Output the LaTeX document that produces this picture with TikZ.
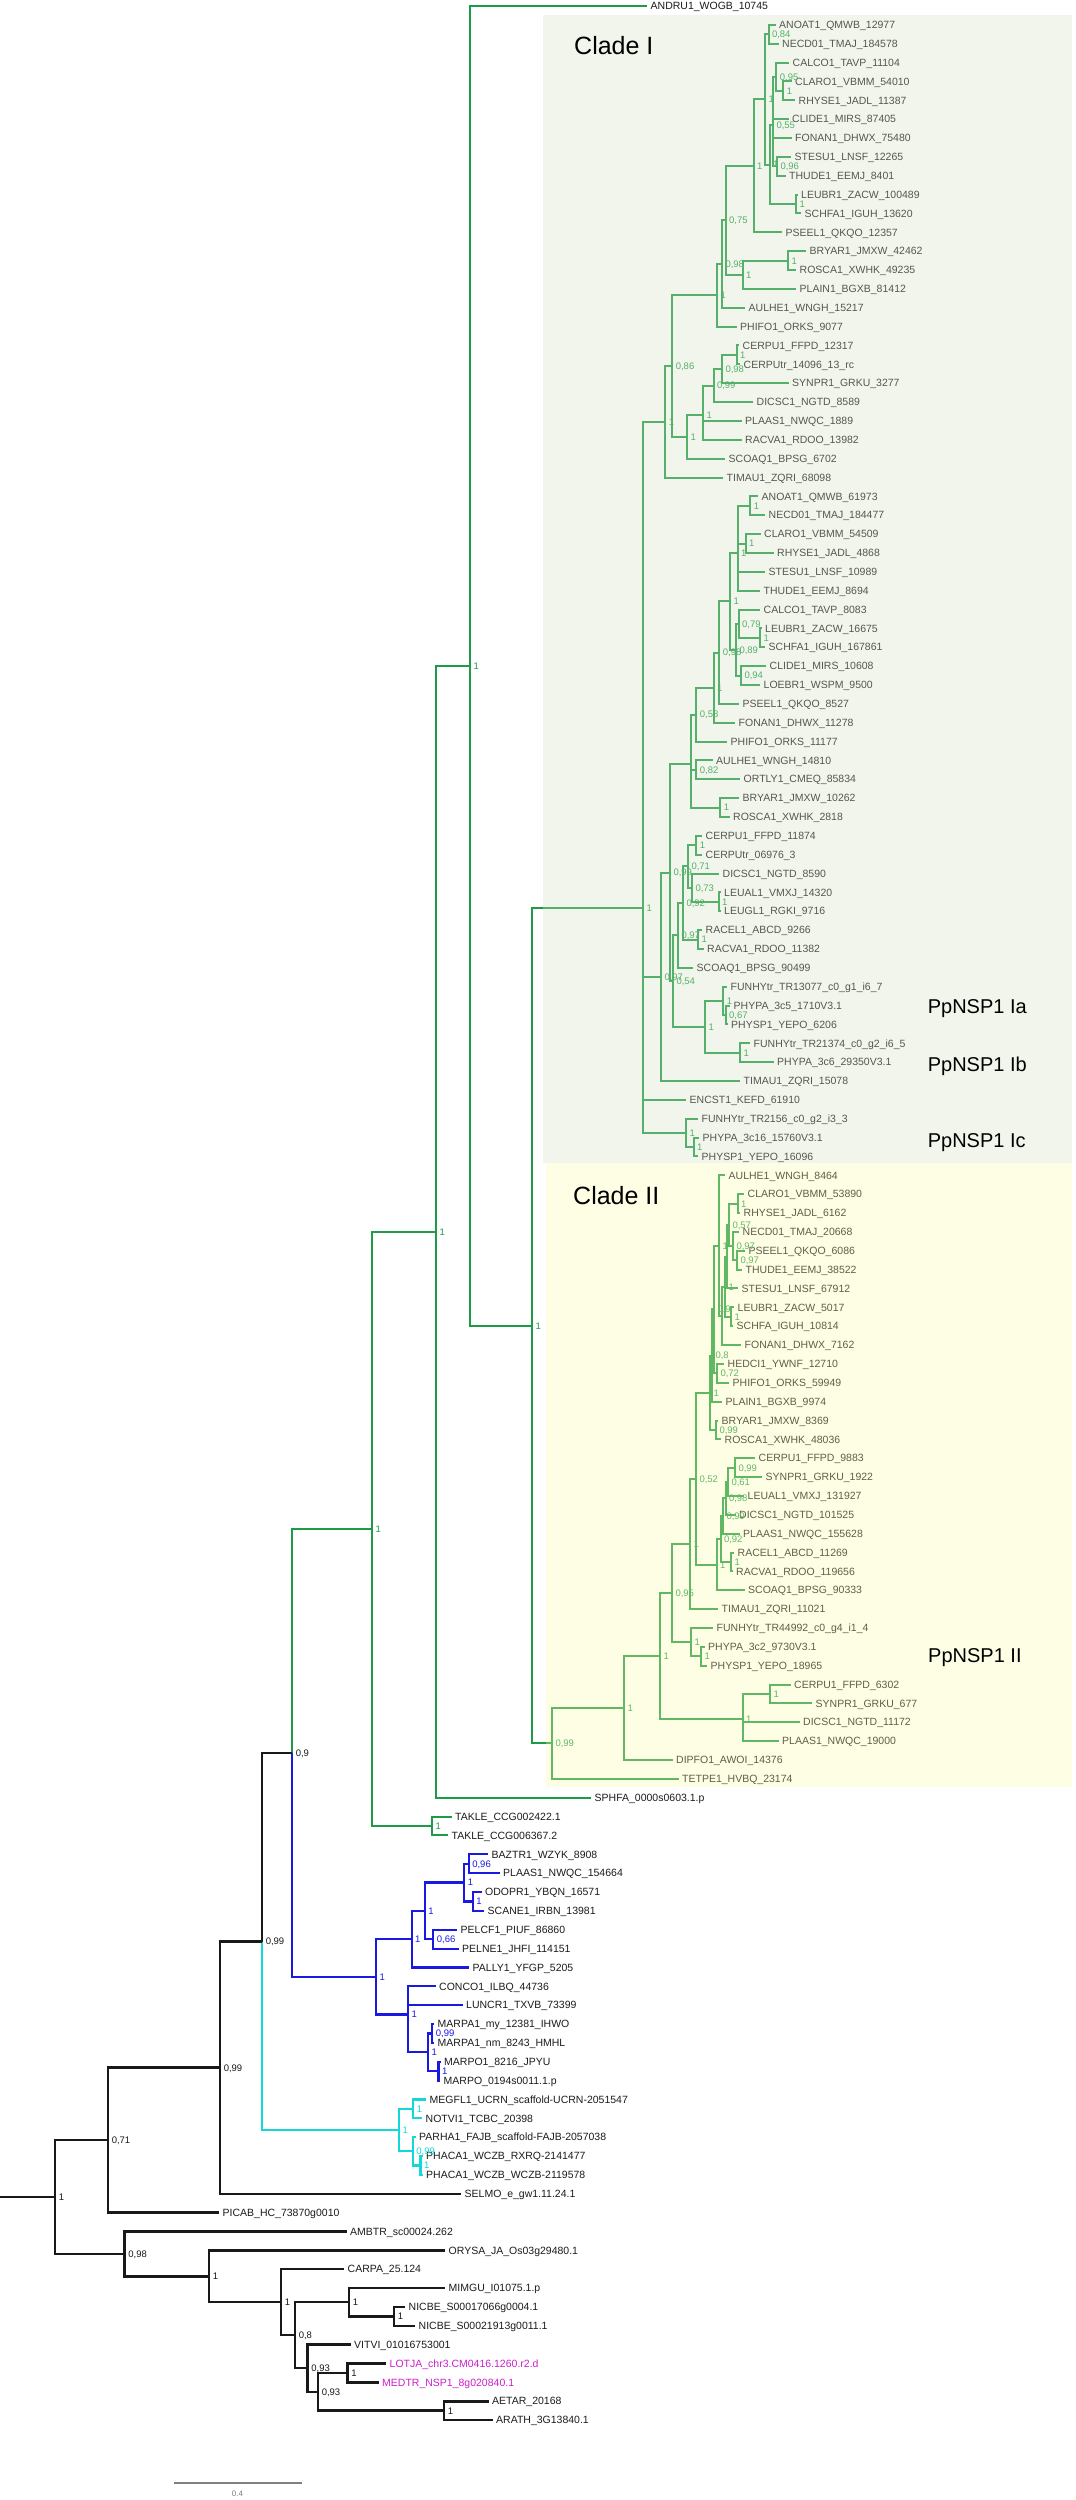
\documentclass[tikz,border=0pt]{standalone}
\usepackage{fontspec}
\setmainfont{Liberation Sans}
\usetikzlibrary{calc}
\definecolor{dgr}{RGB}{30,155,70}
\definecolor{blu}{RGB}{25,25,225}
\definecolor{cya}{RGB}{20,215,215}
\definecolor{blk}{RGB}{25,25,25}
\definecolor{txt}{RGB}{28,28,28}
\definecolor{mag}{RGB}{205,30,205}
\definecolor{boxa}{RGB}{212,225,192}
\definecolor{boxb}{RGB}{252,252,172}
\newcommand\lffont{\fontsize{10.5}{12}\selectfont}
\newcommand\bsfont{\fontsize{9.5}{11}\selectfont}
\tikzset{
 gr/.style={color=dgr,line width=2pt},
 bl/.style={color=blu,line width=2.2pt},
 cy/.style={color=cya,line width=2.2pt},
 bk/.style={color=blk,line width=2.5pt},
 lfs/.style={anchor=base west,inner sep=0pt,xshift=3.5pt,yshift=-3.7pt,font=\lffont},
 bs/.style={anchor=base west,inner sep=0pt,xshift=2.5pt,yshift=-3.4pt,font=\bsfont},
 cladelab/.style={anchor=base west,inner sep=0pt,font=\fontsize{25}{30}\selectfont,text=black},
 pplab/.style={anchor=base west,inner sep=0pt,font=\fontsize{20}{24}\selectfont,text=black},
}
\newcommand\lf[5][txt]{\coordinate (#2) at (#4,{6+18.86*#3});\node[lfs,text=#1] at (#2) {#5};}
\newcommand\cl[6][gr]{\path let \p1=($(#4)!0.5!(#5)$) in (#3pt,\y1) coordinate (#2);
 \draw[#1] (#2) |- (#4); \draw[#1] (#2) |- (#5); \node[bs,#1] at (#2) {#6};}
\newcommand\clt[7][gr]{\path let \p1=(barycentric cs:#4=1,#5=1,#6=1) in (#3pt,\y1) coordinate (#2);
 \foreach \c in {#4,#5,#6} {\draw[#1] (#2) |- (\c);} \node[bs,#1] at (#2) {#7};}
\newcommand\clq[8][gr]{\path let \p1=(barycentric cs:#4=1,#5=1,#6=1,#7=1) in (#3pt,\y1) coordinate (#2);
 \foreach \c in {#4,#5,#6,#7} {\draw[#1] (#2) |- (\c);} \node[bs,#1] at (#2) {#8};}
\begin{document}
\catcode`\_=12
\begin{tikzpicture}[x=1pt,y=-1pt]
\useasboundingbox (0,0) rectangle (1076,2500);
\fill[white] (0,0) rectangle (1076,2500);
% leaves
\lf{L0}{0}{647}{ANDRU1_WOGB_10745}
\lf{L1}{1}{775.5}{ANOAT1_QMWB_12977}
\lf{L2}{2}{778.5}{NECD01_TMAJ_184578}
\lf{L3}{3}{789}{CALCO1_TAVP_11104}
\lf{L4}{4}{791.5}{CLARO1_VBMM_54010}
\lf{L5}{5}{795}{RHYSE1_JADL_11387}
\lf{L6}{6}{788.5}{CLIDE1_MIRS_87405}
\lf{L7}{7}{791.5}{FONAN1_DHWX_75480}
\lf{L8}{8}{791}{STESU1_LNSF_12265}
\lf{L9}{9}{785.5}{THUDE1_EEMJ_8401}
\lf{L10}{10}{797.5}{LEUBR1_ZACW_100489}
\lf{L11}{11}{801}{SCHFA1_IGUH_13620}
\lf{L12}{12}{782}{PSEEL1_QKQO_12357}
\lf{L13}{13}{806}{BRYAR1_JMXW_42462}
\lf{L14}{14}{796}{ROSCA1_XWHK_49235}
\lf{L15}{15}{796}{PLAIN1_BGXB_81412}
\lf{L16}{16}{745}{AULHE1_WNGH_15217}
\lf{L17}{17}{736.5}{PHIFO1_ORKS_9077}
\lf{L18}{18}{739}{CERPU1_FFPD_12317}
\lf{L19}{19}{740}{CERPUtr_14096_13_rc}
\lf{L20}{20}{788.5}{SYNPR1_GRKU_3277}
\lf{L21}{21}{753}{DICSC1_NGTD_8589}
\lf{L22}{22}{741.5}{PLAAS1_NWQC_1889}
\lf{L23}{23}{741.5}{RACVA1_RDOO_13982}
\lf{L24}{24}{725}{SCOAQ1_BPSG_6702}
\lf{L25}{25}{723}{TIMAU1_ZQRI_68098}
\lf{L26}{26}{758}{ANOAT1_QMWB_61973}
\lf{L27}{27}{765}{NECD01_TMAJ_184477}
\lf{L28}{28}{760.5}{CLARO1_VBMM_54509}
\lf{L29}{29}{773.5}{RHYSE1_JADL_4868}
\lf{L30}{30}{765}{STESU1_LNSF_10989}
\lf{L31}{31}{760}{THUDE1_EEMJ_8694}
\lf{L32}{32}{760}{CALCO1_TAVP_8083}
\lf{L33}{33}{761.5}{LEUBR1_ZACW_16675}
\lf{L34}{34}{765}{SCHFA1_IGUH_167861}
\lf{L35}{35}{766}{CLIDE1_MIRS_10608}
\lf{L36}{36}{760}{LOEBR1_WSPM_9500}
\lf{L37}{37}{739}{PSEEL1_QKQO_8527}
\lf{L38}{38}{735}{FONAN1_DHWX_11278}
\lf{L39}{39}{727}{PHIFO1_ORKS_11177}
\lf{L40}{40}{712.5}{AULHE1_WNGH_14810}
\lf{L41}{41}{740}{ORTLY1_CMEQ_85834}
\lf{L42}{42}{739}{BRYAR1_JMXW_10262}
\lf{L43}{43}{729.5}{ROSCA1_XWHK_2818}
\lf{L44}{44}{702}{CERPU1_FFPD_11874}
\lf{L45}{45}{702}{CERPUtr_06976_3}
\lf{L46}{46}{719}{DICSC1_NGTD_8590}
\lf{L47}{47}{720.5}{LEUAL1_VMXJ_14320}
\lf{L48}{48}{720.5}{LEUGL1_RGKI_9716}
\lf{L49}{49}{702}{RACEL1_ABCD_9266}
\lf{L50}{50}{703.5}{RACVA1_RDOO_11382}
\lf{L51}{51}{693}{SCOAQ1_BPSG_90499}
\lf{L52}{52}{727}{FUNHYtr_TR13077_c0_g1_i6_7}
\lf{L53}{53}{730}{PHYPA_3c5_1710V3.1}
\lf{L54}{54}{727.5}{PHYSP1_YEPO_6206}
\lf{L55}{55}{750}{FUNHYtr_TR21374_c0_g2_i6_5}
\lf{L56}{56}{773.5}{PHYPA_3c6_29350V3.1}
\lf{L57}{57}{740}{TIMAU1_ZQRI_15078}
\lf{L58}{58}{686}{ENCST1_KEFD_61910}
\lf{L59}{59}{698}{FUNHYtr_TR2156_c0_g2_i3_3}
\lf{L60}{60}{699}{PHYPA_3c16_15760V3.1}
\lf{L61}{61}{698}{PHYSP1_YEPO_16096}
\lf{L62}{62}{725}{AULHE1_WNGH_8464}
\lf{L63}{63}{744}{CLARO1_VBMM_53890}
\lf{L64}{64}{740}{RHYSE1_JADL_6162}
\lf{L65}{65}{739}{NECD01_TMAJ_20668}
\lf{L66}{66}{745}{PSEEL1_QKQO_6086}
\lf{L67}{67}{742}{THUDE1_EEMJ_38522}
\lf{L68}{68}{738}{STESU1_LNSF_67912}
\lf{L69}{69}{734}{LEUBR1_ZACW_5017}
\lf{L70}{70}{733}{SCHFA_IGUH_10814}
\lf{L71}{71}{741}{FONAN1_DHWX_7162}
\lf{L72}{72}{724}{HEDCI1_YWNF_12710}
\lf{L73}{73}{729}{PHIFO1_ORKS_59949}
\lf{L74}{74}{722}{PLAIN1_BGXB_9974}
\lf{L75}{75}{718}{BRYAR1_JMXW_8369}
\lf{L76}{76}{721}{ROSCA1_XWHK_48036}
\lf{L77}{77}{755}{CERPU1_FFPD_9883}
\lf{L78}{78}{762}{SYNPR1_GRKU_1922}
\lf{L79}{79}{744}{LEUAL1_VMXJ_131927}
\lf{L80}{80}{735.5}{DICSC1_NGTD_101525}
\lf{L81}{81}{739.5}{PLAAS1_NWQC_155628}
\lf{L82}{82}{734}{RACEL1_ABCD_11269}
\lf{L83}{83}{732.5}{RACVA1_RDOO_119656}
\lf{L84}{84}{744.5}{SCOAQ1_BPSG_90333}
\lf{L85}{85}{718}{TIMAU1_ZQRI_11021}
\lf{L86}{86}{713}{FUNHYtr_TR44992_c0_g4_i1_4}
\lf{L87}{87}{704.5}{PHYPA_3c2_9730V3.1}
\lf{L88}{88}{707}{PHYSP1_YEPO_18965}
\lf{L89}{89}{790.5}{CERPU1_FFPD_6302}
\lf{L90}{90}{812}{SYNPR1_GRKU_677}
\lf{L91}{91}{799.5}{DICSC1_NGTD_11172}
\lf{L92}{92}{778.5}{PLAAS1_NWQC_19000}
\lf{L93}{93}{672.5}{DIPFO1_AWOI_14376}
\lf{L94}{94}{678.5}{TETPE1_HVBQ_23174}
\lf{L95}{95}{591}{SPHFA_0000s0603.1.p}
\lf{L96}{96}{451.5}{TAKLE_CCG002422.1}
\lf{L97}{97}{448}{TAKLE_CCG006367.2}
\lf{L98}{98}{488}{BAZTR1_WZYK_8908}
\lf{L99}{99}{499.5}{PLAAS1_NWQC_154664}
\lf{L100}{100}{481.5}{ODOPR1_YBQN_16571}
\lf{L101}{101}{484}{SCANE1_IRBN_13981}
\lf{L102}{102}{457}{PELCF1_PIUF_86860}
\lf{L103}{103}{458.5}{PELNE1_JHFI_114151}
\lf{L104}{104}{469}{PALLY1_YFGP_5205}
\lf{L105}{105}{435.5}{CONCO1_ILBQ_44736}
\lf{L106}{106}{462.5}{LUNCR1_TXVB_73399}
\lf{L107}{107}{434}{MARPA1_my_12381_IHWO}
\lf{L108}{108}{434}{MARPA1_nm_8243_HMHL}
\lf{L109}{109}{440.5}{MARPO1_8216_JPYU}
\lf{L110}{110}{440}{MARPO_0194s0011.1.p}
\lf{L111}{111}{426}{MEGFL1_UCRN_scaffold-UCRN-2051547}
\lf{L112}{112}{422}{NOTVI1_TCBC_20398}
\lf{L113}{113}{415.5}{PARHA1_FAJB_scaffold-FAJB-2057038}
\lf{L114}{114}{422.5}{PHACA1_WCZB_RXRQ-2141477}
\lf{L115}{115}{422.5}{PHACA1_WCZB_WCZB-2119578}
\lf{L116}{116}{461}{SELMO_e_gw1.11.24.1}
\lf{L117}{117}{219}{PICAB_HC_73870g0010}
\lf{L118}{118}{346.5}{AMBTR_sc00024.262}
\lf{L119}{119}{445}{ORYSA_JA_Os03g29480.1}
\lf{L120}{120}{344}{CARPA_25.124}
\lf{L121}{121}{445}{MIMGU_I01075.1.p}
\lf{L122}{122}{405}{NICBE_S00017066g0004.1}
\lf{L123}{123}{415}{NICBE_S00021913g0011.1}
\lf{L124}{124}{350.5}{VITVI_01016753001}
\lf[mag]{L125}{125}{386}{LOTJA_chr3.CM0416.1260.r2.d}
\lf[mag]{L126}{126}{378.5}{MEDTR_NSP1_8g020840.1}
\lf{L127}{127}{488.5}{AETAR_20168}
\lf{L128}{128}{492.5}{ARATH_3G13840.1}
% clade I, part 1
\cl{n1}{768.5}{L1}{L2}{0,84}
\cl{n2}{783.3}{L4}{L5}{1}
\cl{n3}{776.4}{L3}{n2}{0,95}
\cl{n4}{777}{L8}{L9}{0,96}
\clq{n5}{773}{n3}{L6}{L7}{n4}{0,55}
\cl{n6}{796}{L10}{L11}{1}
\cl{n8}{769.5}{n5}{n6}{1}
\cl{n7}{765}{n1}{n8}{1}
\cl{n9}{753.7}{n7}{L12}{1}
\cl{br1}{788}{L13}{L14}{1}
\cl{nbrp}{742.7}{br1}{L15}{1}
\cl{n10}{725.6}{n9}{nbrp}{0,75}
\cl{n13}{722}{n10}{L16}{0,98}
\cl{n12}{717}{n13}{L17}{1}
\cl{n19}{736.6}{L18}{L19}{1}
\cl{n18}{722}{n19}{L20}{0,98}
\cl{n17}{713.5}{n18}{L21}{0,99}
\clt{n16}{703}{n17}{L22}{L23}{1}
\cl{n15}{687}{n16}{L24}{1}
\cl{n14}{672.3}{n12}{n15}{0,86}
\cl{n20}{665.4}{n14}{L25}{1}
% clade I, part 2
\cl{m1}{750.3}{L26}{L27}{1}
\cl{m2}{745.5}{L28}{L29}{1}
\clq{a2}{737.6}{m1}{m2}{L30}{L31}{1}
\cl{m3}{760}{L33}{L34}{1}
\cl{m4}{738.6}{L32}{m3}{0,79}
\cl{m5}{741}{L35}{L36}{0,94}
\cl{m6}{736}{m4}{m5}{0,89}
\cl{a3}{730}{a2}{m6}{1}
\cl{a4}{719.4}{a3}{L37}{0,98}
\cl{a5}{713.5}{a4}{L38}{1}
\cl{a6}{696.4}{a5}{L39}{0,58}
\cl{m7}{696.4}{L40}{L41}{0,82}
\cl{m8}{720.4}{L42}{L43}{1}
\clt{a7}{691.2}{a6}{m7}{m8}{}
\cl{c1}{696.4}{L44}{L45}{1}
\cl{c2}{718.7}{L47}{L48}{1}
\cl{c3}{692}{L46}{c2}{0,73}
\cl{c4}{688}{c1}{c3}{0,71}
\cl{c5}{698}{L49}{L50}{1}
\cl{c6}{683}{c4}{c5}{0,92}
\cl{c7}{678}{c6}{L51}{0,97}
\cl{iap}{725.7}{L53}{L54}{0,67}
\cl{ia}{723.3}{L52}{iap}{1}
\cl{ib}{740}{L55}{L56}{1}
\cl{iab}{705}{ia}{ib}{1}
\cl{c8}{673}{c7}{iab}{0,54}
\cl{c9}{670}{a7}{c8}{0,99}
\cl{c10}{661}{c9}{L57}{0,97}
\cl{icp}{693.6}{L60}{L61}{1}
\cl{ic}{686}{L59}{icp}{1}
\clq{nI}{643}{n20}{c10}{L58}{ic}{1}
% clade II
\cl{cr}{737.7}{L63}{L64}{1}
\cl{r1}{737}{L66}{L67}{0,97}
\cl{r2}{733}{L65}{r1}{0,97}
\cl{r3}{729}{cr}{r2}{0,57}
\cl{r4}{727}{r3}{L68}{}
\cl{ls}{731}{L69}{L70}{1}
\cl{r5}{725}{r4}{ls}{1}
\cl{r6}{722}{r5}{L71}{}
\cl{r7}{719}{L62}{r6}{1}
\cl{q1}{717}{L72}{L73}{0,72}
\cl{q2}{714}{r7}{q1}{0,9}
\cl{q3}{712}{q2}{L74}{0,8}
\cl{br2}{716}{L75}{L76}{0,99}
\cl{bg}{710}{q3}{br2}{1}
\cl{p1}{735}{L77}{L78}{0,99}
\cl{p2}{728}{p1}{L79}{0,61}
\cl{p3}{725.5}{p2}{L80}{0,98}
\cl{p4}{723}{p3}{L81}{0,99}
\cl{rp}{731}{L82}{L83}{1}
\cl{p5}{720.5}{p4}{rp}{0,92}
\cl{p6}{716.5}{p5}{L84}{1}
\cl{X}{696}{bg}{p6}{0,52}
\cl{nT}{690}{X}{L85}{1}
\cl{iipp}{701}{L87}{L88}{1}
\cl{iip}{691}{L86}{iipp}{1}
\cl{n95}{672}{nT}{iip}{0,95}
\cl{csp}{770}{L89}{L90}{1}
\clt{lg}{742.5}{csp}{L91}{L92}{1}
\cl{n1b}{660}{n95}{lg}{1}
\cl{c2a}{624}{n1b}{L93}{1}
\cl{CII}{552}{c2a}{L94}{0,99}
% green trunk
\cl{H}{532}{nI}{CII}{1}
\cl{Gy}{470}{L0}{H}{1}
\cl{Gx}{436}{Gy}{L95}{1}
\cl{tk}{432}{L96}{L97}{1}
\cl{G0}{372}{Gx}{tk}{1}
% blue
\cl[bl]{bz}{468.7}{L98}{L99}{0,96}
\cl[bl]{os}{472.8}{L100}{L101}{1}
\cl[bl]{b1}{464.2}{bz}{os}{1}
\cl[bl]{pel}{433.3}{L102}{L103}{0,66}
\cl[bl]{b2}{424.7}{b1}{pel}{1}
\cl[bl]{b3}{411.6}{b2}{L104}{1}
\cl[bl]{ma}{432.3}{L107}{L108}{0,99}
\cl[bl]{mo}{438.5}{L109}{L110}{1}
\cl[bl]{mcl}{428}{ma}{mo}{1}
\clt[bl]{N1}{408}{L105}{L106}{mcl}{1}
\cl[bl]{B0}{376}{b3}{N1}{1}
% cyan
\cl[cy]{cy1}{413.3}{L111}{L112}{1}
\cl[cy]{cy2}{420.5}{L114}{L115}{1}
\cl[cy]{cy3}{412.8}{L113}{cy2}{0,99}
\cl[cy]{cy4}{399}{cy1}{cy3}{1}
% mixed nodes
\path let \p1=($(G0)!0.5!(B0)$) in (292pt,\y1) coordinate (nine);
\draw[gr] (nine) |- (G0); \draw[bl] (nine) |- (B0); \node[bs,bk] at (nine) {0,9};
\path let \p1=($(nine)!0.5!(cy4)$) in (262pt,\y1) coordinate (C);
\draw[bk] (C) |- (nine); \draw[cy] (C) |- (cy4); \node[bs,bk] at (C) {0,99};
\cl[bk]{bk99}{220}{C}{L116}{0,99}
\cl[bk]{bk71}{108}{bk99}{L117}{0,71}
% angiosperms
\cl[bk]{lm}{347.7}{L125}{L126}{1}
\cl[bk]{aa}{444}{L127}{L128}{1}
\cl[bk]{an7}{318}{lm}{aa}{0,93}
\cl[bk]{an6}{307.7}{L124}{an7}{0,93}
\cl[bk]{nb}{394}{L122}{L123}{1}
\cl[bk]{an5}{349}{L121}{nb}{1}
\cl[bk]{an4}{295}{an5}{an6}{0,8}
\cl[bk]{an3}{281}{L120}{an4}{1}
\cl[bk]{an2}{209}{L119}{an3}{1}
\cl[bk]{ang}{124.6}{L118}{an2}{0,98}
\cl[bk]{root}{55}{bk71}{ang}{1}
\draw[bk] (root) -- ++(-55,0);
% clade boxes (overlay)
\fill[boxa,fill opacity=0.3] (543,15) rectangle (1072,1163);
\fill[boxb,fill opacity=0.3] (546,1163) rectangle (1072,1787);
\node[cladelab] (cI) at (574,54) {Clade I};
\node[cladelab] (cII) at (573,1204.5) {Clade II};
\node[pplab] (pIa) at (927.6,1013) {PpNSP1 Ia};
\node[pplab] (pIb) at (927.6,1071) {PpNSP1 Ib};
\node[pplab] (pIc) at (927.6,1147) {PpNSP1 Ic};
\node[pplab] (pII) at (928,1662) {PpNSP1 II};
% scale bar
\coordinate (sb1) at (174,2483);
\coordinate (sb2) at (301.5,2483);
\draw[gray,line width=1.2pt] (sb1) -- (sb2);
\node[text=gray,font=\fontsize{8}{9}\selectfont,inner sep=0pt] (sbl) at (237.5,2494) {0.4};
\end{tikzpicture}
\end{document}
